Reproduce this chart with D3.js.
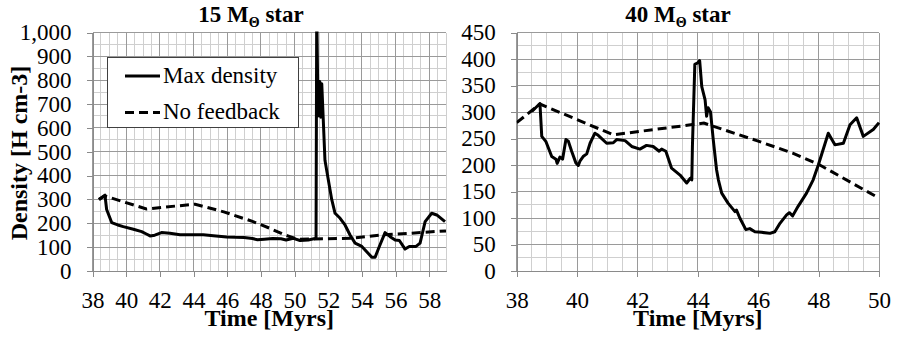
<!DOCTYPE html>
<html><head><meta charset="utf-8">
<script src="https://cdn.jsdelivr.net/npm/d3@7/dist/d3.min.js"></script>
<style>
html,body{margin:0;padding:0;background:#fff;}
svg{display:block;font-family:"Liberation Serif","Times New Roman",serif;}
</style></head>
<body><svg id="chart" width="900" height="337"></svg>
<script>
// ---- Data ----
const leftMaxTime = [38.37,38.74,38.84,39.14,39.5,39.83,40.43,40.92,41.2,41.42,41.7,42.1,42.6,43.2,43.8,44.58,45.18,45.97,46.5,47.0,47.5,47.8,48.2,48.7,49.2,49.5,49.93,50.33,50.82,51.28,51.32,51.4,51.5,51.56,51.62,51.81,51.99,52.21,52.41,52.71,53.0,53.3,53.6,54.0,54.59,54.79,55.04,55.38,55.68,55.98,56.23,56.57,56.82,57.22,57.46,57.76,58.15,58.45,58.94];
const leftMaxDensity = [300,318,258,203,193,186,175,165,155,147,150,161,158,152,152,152,148,143,141,140,136,131,133,136,135,130,137,128,130,137,1100,650,795,645,785,464,390,300,242,221,193,151,117,103,58,58,103,161,144,130,128,92,103,103,117,207,242,235,207];
const leftNoFbTime = [38.4,38.72,41.2,42.9,44.1,45.8,47.5,48.5,49.4,50.2,51.9,53.5,55.3,56.8,58.5,59];
const leftNoFbDensity = [300,315,260,272,280,248,208,180,152,133,135,138,152,158,166,168];

const rightMaxTime = [38.5,38.77,38.83,38.97,39.16,39.3,39.34,39.43,39.52,39.63,39.71,39.82,39.96,40.04,40.1,40.2,40.32,40.43,40.59,40.7,40.98,41.2,41.31,41.59,41.81,42.08,42.3,42.52,42.72,42.8,42.94,43.13,43.41,43.63,43.75,43.8,43.82,43.9,44.0,44.06,44.13,44.24,44.29,44.34,44.42,44.51,44.62,44.68,44.79,45.0,45.23,45.28,45.39,45.59,45.72,45.89,46.11,46.39,46.55,46.72,46.94,47.03,47.14,47.32,47.6,47.82,47.99,48.32,48.54,48.82,49.04,49.26,49.48,49.81,50.0];
const rightMaxDensity = [301,316,254,244,216,211,203,215,211,248,245,226,204,199,208,216,221,241,260,256,241,242,248,246,235,230,237,235,226,230,226,194,181,166,175,172,235,390,393,397,348,323,292,308,300,248,191,172,147,128,112,115,100,78,80,74,73,71,74,90,106,110,104,122,147,172,200,260,238,241,276,289,254,267,280];
const rightNoFbTime = [38,38.77,41.2,44.2,45.95,47.16,48.04,49.92,50];
const rightNoFbDensity = [280,315,257,279,246,222,200,140,138];

const leftTicksX = [38,40,42,44,46,48,50,52,54,56,58];
const rightTicksX = [38,40,42,44,46,48,50];
const leftTicksY = [0,100,200,300,400,500,600,700,800,900,1000];
const rightTicksY = [0,50,100,150,200,250,300,350,400,450];
const seriesNames = ["Max density","No feedback"];
const titles = ["15 M","40 M"];
const xTitle = "Time [Myrs]";
const yTitle = "Density [H cm-3]";

// ---- Drawing ----
const svg = d3.select("#chart");
const FONT = '"Liberation Serif","Times New Roman",serif';
const plotTop = 32.5, plotBottom = 271;

function panel(cfg){
  const x = d3.scaleLinear().domain(cfg.xDomain).range([cfg.x0, cfg.x1]);
  const y = d3.scaleLinear().domain(cfg.yDomain).range([plotBottom, plotTop]);
  const g = svg.append("g");
  const xMinor = d3.range(cfg.xDomain[0], cfg.xDomain[1] + 1e-9, 0.5);
  const yMinor = d3.range(cfg.yDomain[0], cfg.yDomain[1] + 1e-9, cfg.yMinor);
  g.selectAll(".vmin").data(xMinor).join("line")
    .attr("x1", d => x(d)).attr("x2", d => x(d)).attr("y1", plotTop).attr("y2", plotBottom)
    .attr("stroke", "#cfcfcf").attr("stroke-width", 1).attr("shape-rendering","crispEdges");
  g.selectAll(".hmin").data(yMinor).join("line")
    .attr("x1", cfg.x0).attr("x2", cfg.x1).attr("y1", d => y(d)).attr("y2", d => y(d))
    .attr("stroke", "#cfcfcf").attr("stroke-width", 1).attr("shape-rendering","crispEdges");
  g.selectAll(".vmaj").data(cfg.xTicks).join("line")
    .attr("x1", d => x(d)).attr("x2", d => x(d)).attr("y1", plotTop).attr("y2", plotBottom)
    .attr("stroke", "#9a9a9a").attr("stroke-width", 1).attr("shape-rendering","crispEdges");
  g.selectAll(".hmaj").data(cfg.yTicks).join("line")
    .attr("x1", cfg.x0).attr("x2", cfg.x1).attr("y1", d => y(d)).attr("y2", d => y(d))
    .attr("stroke", "#9a9a9a").attr("stroke-width", 1).attr("shape-rendering","crispEdges");

  const ax = g.append("g").attr("transform", `translate(0,${plotBottom})`)
    .call(d3.axisBottom(x).tickValues(cfg.xTicks).tickSize(6).tickPadding(15).tickSizeOuter(0).tickFormat(d3.format("d")));
  const ay = g.append("g").attr("transform", `translate(${cfg.x0},0)`)
    .call(d3.axisLeft(y).tickValues(cfg.yTicks).tickSize(6).tickPadding(15).tickSizeOuter(0).tickFormat(d3.format(",")));
  [ax, ay].forEach(a => {
    a.select(".domain").attr("stroke", "#8a8a8a").attr("shape-rendering","crispEdges");
    a.selectAll(".tick line").attr("stroke", "#8a8a8a").attr("shape-rendering","crispEdges");
    a.selectAll(".tick text").attr("fill", "#000").style("font-family", FONT).style("font-size", "23px");
  });

  const cid = "clip" + cfg.id;
  svg.append("clipPath").attr("id", cid).append("rect")
    .attr("x", cfg.x0).attr("y", plotTop - 1).attr("width", cfg.x1 - cfg.x0 + 1).attr("height", plotBottom - plotTop + 2);
  const line = d3.line().x(d => x(d[0])).y(d => y(d[1]));
  const lg = g.append("g").attr("clip-path", `url(#${cid})`);
  lg.append("path").datum(d3.zip(cfg.nfT, cfg.nfV)).attr("d", line)
    .attr("fill", "none").attr("stroke", "#000").attr("stroke-width", 3).attr("stroke-dasharray", "9,5");
  lg.append("path").datum(d3.zip(cfg.mT, cfg.mV)).attr("d", line)
    .attr("fill", "none").attr("stroke", "#000").attr("stroke-width", 3).attr("stroke-linejoin", "round");

  const t = svg.append("text").attr("x", cfg.titleX).attr("y", 22).attr("text-anchor", "middle")
    .style("font-family", FONT).style("font-size", "23px").style("font-weight", "bold");
  t.append("tspan").text(cfg.title);
  t.append("tspan").attr("dy", 5).style("font-size", "14px").text("\u0398");
  t.append("tspan").attr("dy", -5).text(" star");

  svg.append("text").attr("x", (cfg.x0 + cfg.x1) / 2).attr("y", 326).attr("text-anchor", "middle")
    .style("font-family", FONT).style("font-size", "24px").style("font-weight", "bold").text(xTitle);
  return {x, y, g};
}

panel({id: "L", x0: 92.5, x1: 446, xDomain: [38, 59], yDomain: [0, 1000], yMinor: 50,
  xTicks: leftTicksX, yTicks: leftTicksY, mT: leftMaxTime, mV: leftMaxDensity, nfT: leftNoFbTime, nfV: leftNoFbDensity,
  title: titles[0], titleX: 251});
panel({id: "R", x0: 516.7, x1: 879, xDomain: [38, 50], yDomain: [0, 450], yMinor: 25,
  xTicks: rightTicksX, yTicks: rightTicksY, mT: rightMaxTime, mV: rightMaxDensity, nfT: rightNoFbTime, nfV: rightNoFbDensity,
  title: titles[1], titleX: 678});

svg.append("text").attr("transform", "translate(27,153) rotate(-90)").attr("text-anchor", "middle")
  .style("font-family", FONT).style("font-size", "24px").style("font-weight", "bold").text(yTitle);

const leg = svg.append("g");
leg.append("rect").attr("x", 107.5).attr("y", 57.5).attr("width", 191).attr("height", 70)
  .attr("fill", "#fff").attr("stroke", "#404040").attr("stroke-width", 1);
const rows = [{name: seriesNames[0], dash: null, y: 76}, {name: seriesNames[1], dash: "9,5", y: 112.5}];
rows.forEach(r => {
  leg.append("line").attr("x1", 125).attr("x2", 160).attr("y1", r.y).attr("y2", r.y)
    .attr("stroke", "#000").attr("stroke-width", 3).attr("stroke-dasharray", r.dash);
  leg.append("text").attr("x", 163).attr("y", r.y + 6.5)
    .style("font-family", FONT).style("font-size", "23px").text(r.name);
});
</script></body></html>
